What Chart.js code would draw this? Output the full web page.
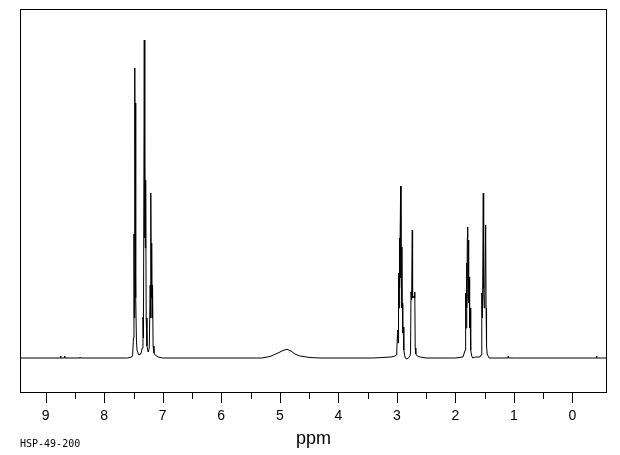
<!DOCTYPE html>
<html>
<head>
<meta charset="utf-8">
<script src="https://cdn.jsdelivr.net/npm/chart.js@4.4.1/dist/chart.umd.min.js"></script>
<style>
  body { margin: 0; background: #fff; }
  canvas { display: block; }
</style>
</head>
<body>
<canvas id="nmr" width="620" height="455"></canvas>
<script>
// spectrum trace: chemical shift (ppm) and intensity (baseline = 0)
const shiftPpm = [
  9.44, 8.75, 8.745, 8.74, 8.68, 8.675, 8.67, 8.42, 8.415, 8.41,
  7.60, 7.53, 7.515, 7.50, 7.492, 7.486, 7.478, 7.472, 7.466, 7.458, 7.45, 7.44, 7.41, 7.375,
  7.35, 7.338, 7.33, 7.316, 7.31, 7.304, 7.298, 7.292, 7.283, 7.27, 7.25,
  7.23, 7.215, 7.208, 7.201, 7.195, 7.189, 7.183, 7.175, 7.165, 7.15, 7.13, 7.08, 7.0,
  5.40, 5.304, 5.167, 5.03, 4.945, 4.877, 4.808, 4.74, 4.655, 4.484, 4.313,
  3.40, 3.10, 3.03, 3.01, 3.0, 2.985, 2.978, 2.97, 2.962, 2.955, 2.948, 2.934, 2.928, 2.92,
  2.912, 2.905, 2.898, 2.89, 2.88, 2.86, 2.84, 2.80,
  2.775, 2.765, 2.757, 2.75, 2.742, 2.735, 2.73, 2.72, 2.705, 2.692, 2.685, 2.675, 2.65, 2.6, 2.5,
  2.0, 1.87, 1.852, 1.83, 1.823, 1.816, 1.808, 1.80, 1.794, 1.788, 1.782, 1.775, 1.768, 1.762,
  1.755, 1.748, 1.741, 1.732, 1.72, 1.70, 1.66,
  1.58, 1.56, 1.55, 1.544, 1.535, 1.522, 1.515, 1.505, 1.495, 1.481, 1.474, 1.466, 1.455, 1.44, 1.42,
  1.10, 1.095, 1.09, 0.95, -0.41, -0.415, -0.42, -0.593
];
const intensity = [
  0, 0, 2, 0, 0, 2, 0, 0, 1, 0,
  0, 1, 3, 20, 124, 40, 290, 120, 255, 60, 18, 8, 3, 4,
  10, 41, 20, 318, 120, 190, 110, 178, 40, 12, 6,
  10, 73, 40, 165, 60, 115, 40, 73, 12, 5, 3, 1, 0,
  0, 0, 1.5, 5, 7.5, 8.7, 7, 4, 2, 0.5, 0,
  0, 1, 2, 3, 8, 28, 15, 85, 50, 120, 70, 172, 80, 111,
  50, 55, 25, 31, 8, 1, -1, 0,
  2, 5, 66, 58, 62, 128, 60, 62, 60, 66, 10, 4, 2, 1, 0,
  0, 1, 4, 8, 65, 30, 95, 50, 120, 131, 60, 118, 55, 81,
  30, 50, 38, 8, 2, 0, 1,
  1, 3, 10, 65, 40, 165, 70, 50, 60, 133, 50, 12, 4, 2, 0,
  0, 2, 0, 0, 0, 2, 0, 0
];

const majorTicks = [9, 8, 7, 6, 5, 4, 3, 2, 1, 0];
const minorTicks = [8.5, 7.5, 6.5, 5.5, 4.5, 3.5, 2.5, 1.5, 0.5];
const axisTitle = 'ppm';
const sampleCode = 'HSP-49-200';

const points = shiftPpm.map((x, i) => ({ x: x, y: intensity[i] }));

// frame, ppm ticks and labels, placed with the chart's own x scale
const framePlugin = {
  id: 'frame',
  afterDraw(chart) {
    const ctx = chart.ctx;
    const a = chart.chartArea;
    const xs = chart.scales.x;
    ctx.save();
    ctx.strokeStyle = '#000';
    ctx.lineWidth = 1;
    ctx.strokeRect(a.left + 0.5, a.top + 0.5, a.right - a.left - 1, a.bottom - a.top - 1);

    ctx.beginPath();
    majorTicks.forEach(v => {
      const px = Math.round(xs.getPixelForValue(v)) + 0.5;
      ctx.moveTo(px, a.bottom);
      ctx.lineTo(px, a.bottom + 10);
    });
    minorTicks.forEach(v => {
      const px = Math.round(xs.getPixelForValue(v)) + 0.5;
      ctx.moveTo(px, a.bottom);
      ctx.lineTo(px, a.bottom + 6);
    });
    ctx.stroke();

    ctx.fillStyle = '#000';
    ctx.textAlign = 'center';
    ctx.textBaseline = 'alphabetic';
    ctx.font = '14px "Liberation Sans", sans-serif';
    majorTicks.forEach(v => {
      ctx.fillText(String(v), xs.getPixelForValue(v), a.bottom + 27);
    });

    ctx.font = '18px "Liberation Sans", sans-serif';
    ctx.fillText(axisTitle, (a.left + a.right) / 2, 444);

    ctx.textAlign = 'left';
    ctx.font = '10px "DejaVu Sans Mono", monospace';
    ctx.fillText(sampleCode, 20, 447);
    ctx.restore();
  }
};

new Chart(document.getElementById('nmr'), {
  type: 'line',
  data: {
    datasets: [{
      data: points,
      borderColor: '#000',
      borderWidth: 1,
      pointRadius: 0,
      tension: 0,
      fill: false
    }]
  },
  options: {
    responsive: false,
    animation: false,
    devicePixelRatio: 1,
    layout: { padding: { left: 20, right: 13, top: 9, bottom: 62 } },
    plugins: { legend: { display: false }, tooltip: { enabled: false } },
    scales: {
      x: { type: 'linear', reverse: true, min: -0.593, max: 9.44, display: false },
      y: { min: -35, max: 349, display: false }
    }
  },
  plugins: [framePlugin]
});
</script>
</body>
</html>
